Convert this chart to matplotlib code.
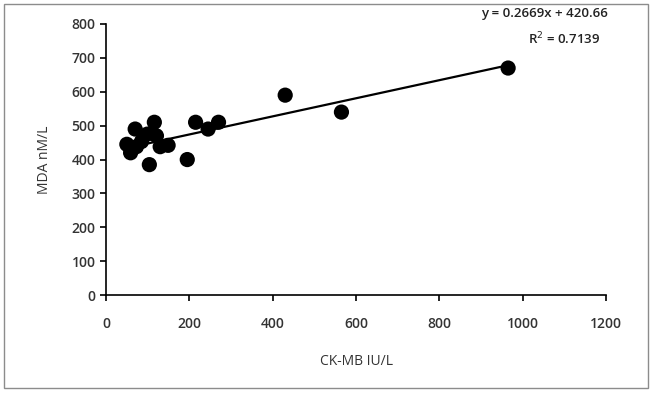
import matplotlib.pyplot as plt
from matplotlib.patches import Rectangle

ck_mb = [965, 430, 565, 270, 215, 245, 195, 70, 116, 121, 99, 50, 73, 59, 130, 149, 104, 85]
mda = [670, 590, 540, 510, 510, 490, 400, 490, 510, 470, 475, 445, 438, 420, 438, 442, 385, 453]

slope = 0.2669
intercept = 420.66

plt.rcParams["font.family"] = ["Open Sans", "DejaVu Sans"]

fig = plt.figure(figsize=(6.52, 3.93), dpi=100)
fig.patches.append(Rectangle((0.006, 0.012), 0.988, 0.978, transform=fig.transFigure,
                             fill=False, edgecolor="#8c8c8c", linewidth=1.0))
ax = fig.add_axes([0.1626, 0.249, 0.7669, 0.690])

ax.scatter(ck_mb, mda, s=120, color="black", zorder=3, edgecolors="none")
x0, x1 = min(ck_mb), max(ck_mb)
ax.plot([x0, x1], [slope * x0 + intercept, slope * x1 + intercept], color="black", linewidth=1.6, zorder=2)

ax.set_xlim(0, 1200)
ax.set_ylim(0, 800)
ax.set_xticks(range(0, 1201, 200))
ax.set_yticks(range(0, 801, 100))
ax.spines["top"].set_visible(False)
ax.spines["right"].set_visible(False)
ax.spines["left"].set_linewidth(1.2)
ax.spines["bottom"].set_linewidth(1.2)
ax.tick_params(direction="out", length=4, width=1.2, labelsize=10, colors="black")
ax.tick_params(axis="x", pad=12)
for lab in ax.get_xticklabels() + ax.get_yticklabels():
    lab.set_color("#333333")
    lab.set_fontweight("semibold")

ax.set_xlabel("CK-MB IU/L", fontsize=10, color="#333333", labelpad=16)
ax.set_ylabel("MDA nM/L", fontsize=10, color="#333333", labelpad=14)

fig.text(0.835, 0.965, "y = 0.2669x + 420.66", ha="center", va="center", fontsize=9.5,
         fontweight="semibold", color="#222222")
fig.text(0.865, 0.900, "R$^2$ = 0.7139", ha="center", va="center", fontsize=9.5,
         fontweight="semibold", color="#222222")

fig.savefig("out.png", dpi=100)
